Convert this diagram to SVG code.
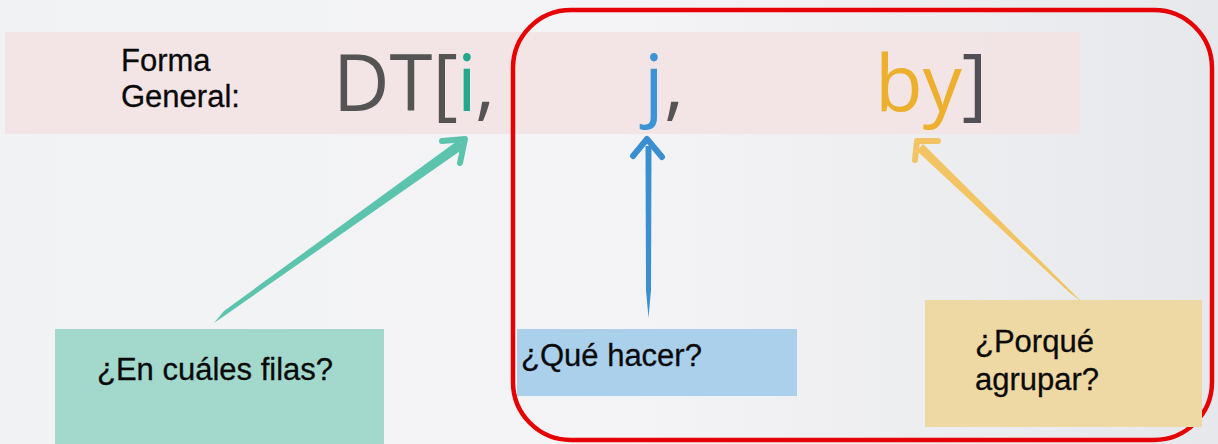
<svg xmlns="http://www.w3.org/2000/svg" width="1218" height="444" viewBox="0 0 1218 444">
<defs>
<linearGradient id="bg" x1="0" y1="0" x2="1" y2="0">
<stop offset="0" stop-color="#f1f2f3"/>
<stop offset="0.5" stop-color="#f4f4f6"/>
<stop offset="1" stop-color="#e7e8eb"/>
</linearGradient>
<style>
.lbl{font-family:"Liberation Sans",Arial,sans-serif;font-size:31px;fill:#0a0a0a;stroke:#0a0a0a;stroke-width:0.3}
.big{font-family:"Open Sans","Noto Sans",sans-serif;font-size:78px}
.head{fill:none;stroke-width:6;stroke-linecap:round;stroke-linejoin:round}
</style>
</defs>
<rect x="0" y="0" width="1218" height="444" fill="url(#bg)"/>
<rect x="5" y="32" width="1075" height="102" fill="#f3e3e3" opacity="0.9"/>

<g id="formula">
<text class="lbl" x="121" y="71">Forma</text>
<text class="lbl" x="121" y="107">General:</text>
<text class="big" y="111"><tspan x="333" fill="#545454">DT[</tspan></text>
<text class="big" y="111"><tspan x="457" fill="#22a88c">i</tspan></text>
<text class="big" y="111"><tspan x="475" fill="#545454">,</tspan></text>
<text class="big" y="111"><tspan x="644" fill="#3a94d6">j</tspan><tspan x="664" fill="#545454">,</tspan></text>
<text class="big" y="111"><tspan x="875" fill="#ecb02e">by</tspan><tspan fill="#4f4f55">]</tspan></text>
</g>

<g id="highlight">
<rect x="513" y="10" width="699" height="430" rx="58" ry="58" fill="none" stroke="#e60000" stroke-width="4.5"/>
</g>

<g id="node-i">
<rect x="55" y="329" width="329" height="115" fill="#a3d8cc"/>
<text class="lbl" x="97" y="380">¿En cuáles filas?</text>
</g>
<g id="node-j">
<rect x="517" y="329" width="280" height="67" fill="#abd0ec"/>
<text class="lbl" x="521" y="366">¿Qué hacer?</text>
</g>
<g id="node-by">
<rect x="925" y="300" width="277" height="127" fill="#eed8a3"/>
<text class="lbl" x="975" y="352">¿Porqué</text>
<text class="lbl" x="975" y="390">agrupar?</text>
</g>

<g id="connectors">
<polygon points="214,323 224,311 458.5,140 464.5,148" fill="#5cc3ad"/>
<path class="head" d="M442,141 L465,139 L460,163" stroke="#5cc3ad"/>
<polygon points="648.5,318 646,290 645.5,146 651.5,146 651,290" fill="#3a8fd0"/>
<path class="head" d="M633,156 L647,139 L662,157" stroke="#3a8fd0"/>
<polygon points="1082,302 1070,293 917,151 923,144" fill="#f2c463"/>
<path class="head" d="M938,141 L917,141 L915,160" stroke="#f2c463"/>
</g>
</svg>
